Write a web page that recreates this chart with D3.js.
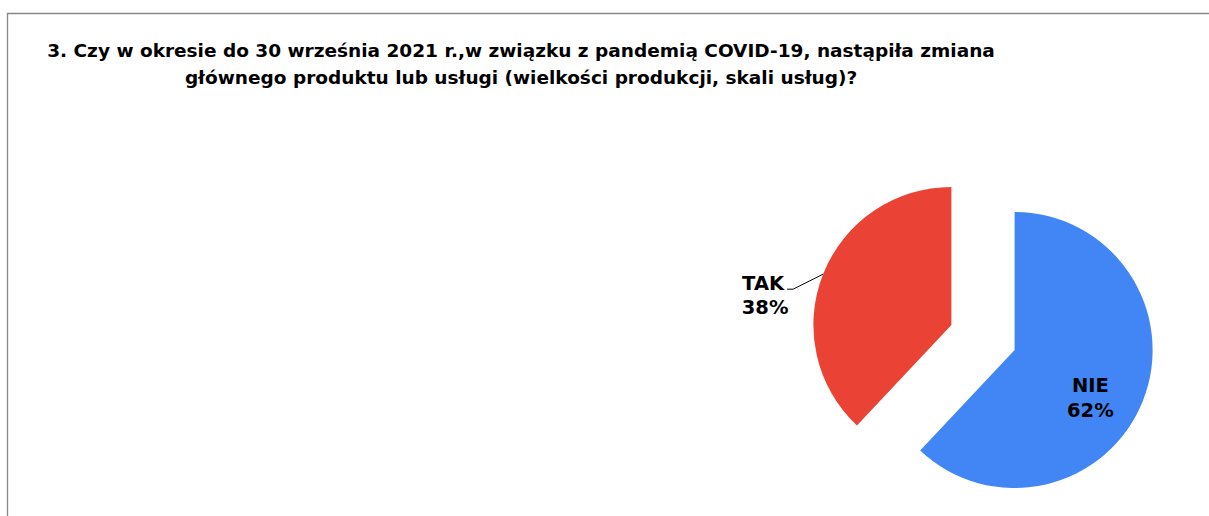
<!DOCTYPE html>
<html>
<head>
<meta charset="utf-8">
<script src="https://cdn.jsdelivr.net/npm/d3@7"></script>
<style>
  body { margin: 0; background: #fff; }
  text { font-family: "DejaVu Sans", Verdana, sans-serif; font-weight: bold; }
</style>
</head>
<body>
<script>
var labels = ["NIE", "TAK"];
var values = [62, 38];
var colors = ["#4285F4", "#EA4335"];
var titleLines = [
  "3. Czy w okresie do 30 września 2021 r.,w związku z pandemią COVID-19, nastąpiła zmiana",
  "głównego produktu lub usługi (wielkości produkcji, skali usług)?"
];

var width = 1209, height = 516;
var svg = d3.select("body").append("svg")
    .attr("width", width)
    .attr("height", height);

// frame (only top and left edges are visible)
svg.append("path")
    .attr("d", "M7.5," + height + "V13.5H" + width)
    .attr("fill", "none")
    .attr("stroke", "#888")
    .attr("stroke-width", 1.3);

svg.selectAll(".title")
    .data(titleLines)
    .enter().append("text")
    .attr("class", "title")
    .attr("x", 521)
    .attr("y", function (d, i) { return 57 + i * 27; })
    .attr("text-anchor", "middle")
    .attr("font-size", 18.5)
    .attr("fill", "#000")
    .text(function (d) { return d; });

var cx = 983, cy = 337.5, r = 138, explode = 34;

var pie = d3.pie().sort(null).value(function (d) { return d; });
var arcs = pie(values);
var arc = d3.arc().innerRadius(0).outerRadius(r);

function mid(d) { return (d.startAngle + d.endAngle) / 2; }
function offset(d) {
  var a = mid(d);
  return [cx + Math.sin(a) * explode, cy - Math.cos(a) * explode];
}

var g = svg.selectAll(".slice")
    .data(arcs)
    .enter().append("g")
    .attr("class", "slice")
    .attr("transform", function (d) { var o = offset(d); return "translate(" + o[0] + "," + o[1] + ")"; });

g.append("path")
    .attr("d", arc)
    .attr("fill", function (d, i) { return colors[i]; });

// inside label for NIE
var inside = g.filter(function (d, i) { return i === 0; });
var inPos = function (d) {
  var a = mid(d) + 0.17, rr = r * 0.66;
  return [Math.sin(a) * rr, -Math.cos(a) * rr];
};
inside.append("text")
    .attr("text-anchor", "middle")
    .attr("font-size", 19.5)
    .attr("x", function (d) { return inPos(d)[0] - 2; })
    .attr("y", function (d) { return inPos(d)[1] - 5; })
    .text(function (d, i) { return labels[0]; });
inside.append("text")
    .attr("text-anchor", "middle")
    .attr("font-size", 19.5)
    .attr("x", function (d) { return inPos(d)[0] - 2; })
    .attr("y", function (d) { return inPos(d)[1] + 20; })
    .text(function (d) { return values[0] + "%"; });

// outside label for TAK with leader line
var outside = g.filter(function (d, i) { return i === 1; });
outside.each(function (d) {
  var a = mid(d);
  var ex = Math.sin(a) * r, ey = -Math.cos(a) * r;
  var kx = ex - 30, ky = ey + 15;
  var sel = d3.select(this);
  sel.append("polyline")
      .attr("points", [[ex, ey], [kx, ky], [kx - 6, ky]].join(" "))
      .attr("fill", "none")
      .attr("stroke", "#000")
      .attr("stroke-width", 1);
  sel.append("text")
      .attr("text-anchor", "middle")
      .attr("font-size", 19.5)
      .attr("x", kx - 30)
      .attr("y", ky + 1)
      .text(labels[1]);
  sel.append("text")
      .attr("text-anchor", "middle")
      .attr("font-size", 19.5)
      .attr("x", kx - 28)
      .attr("y", ky + 25)
      .text(values[1] + "%");
});
</script>
</body>
</html>
